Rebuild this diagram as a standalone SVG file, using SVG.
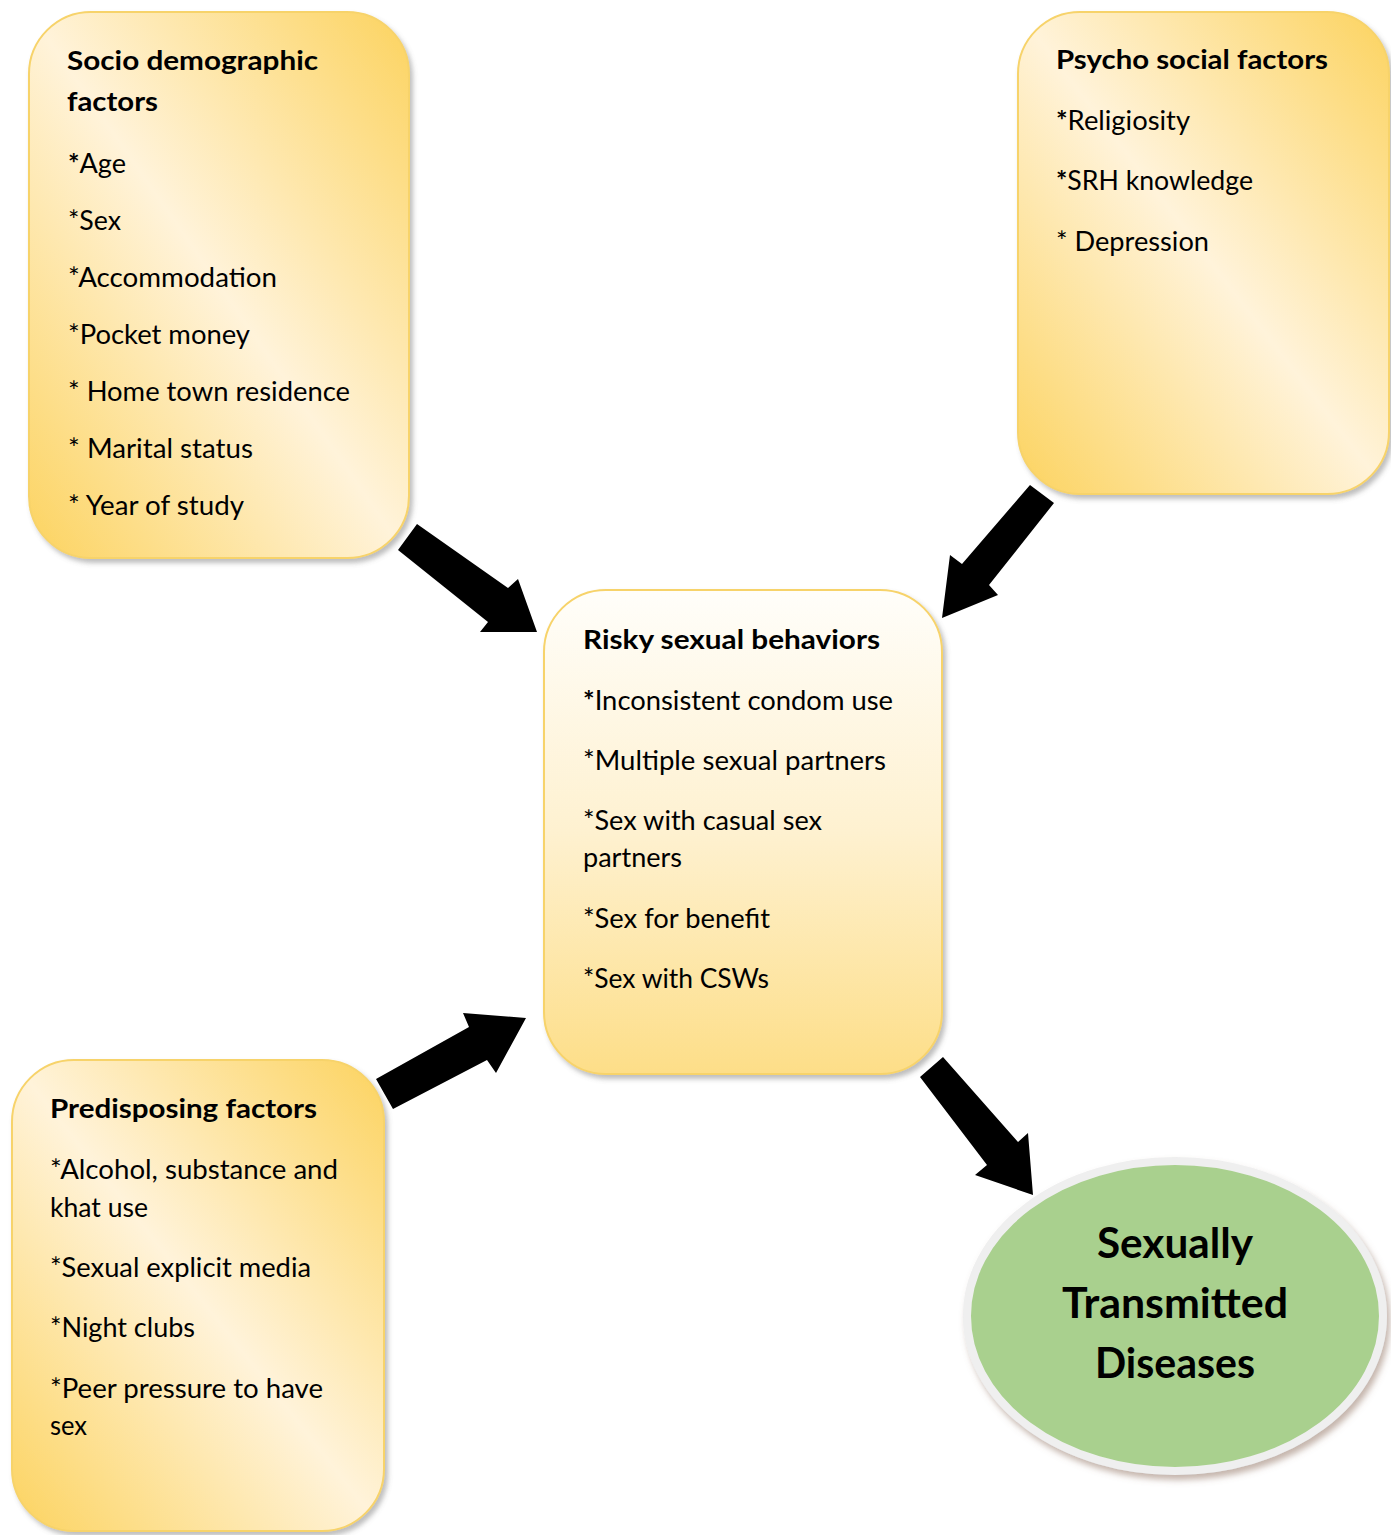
<svg xmlns="http://www.w3.org/2000/svg" width="1391" height="1535" viewBox="0 0 1391 1535">
  <style>
    .box { stroke: #F7D36B; stroke-width: 2; filter: url(#shadow); }
    .diag { fill: url(#gradDiag); }
    .vert { fill: url(#gradVert); }
    text { font-family: Lato, "Open Sans", sans-serif; fill: #000; }
    .t { font-size: 27.5px; font-weight: 700; }
    .b { font-size: 27px; font-weight: 400; }
    .ab { font-weight: 700; }
    .std { font-size: 42px; font-weight: 700; text-anchor: middle; }
    .arrow { fill: #000; }
  </style>
  <defs>
    <linearGradient id="gradDiag" x1="0" y1="1" x2="1" y2="0">
      <stop offset="0" stop-color="#FCD35F"/>
      <stop offset="0.5" stop-color="#FFF3DA"/>
      <stop offset="1" stop-color="#FCD35F"/>
    </linearGradient>
    <linearGradient id="gradVert" x1="0" y1="0" x2="0" y2="1">
      <stop offset="0" stop-color="#FFFEFA"/>
      <stop offset="0.5" stop-color="#FEF1D0"/>
      <stop offset="1" stop-color="#FDDE88"/>
    </linearGradient>
    <filter id="shadow" x="-10%" y="-10%" width="125%" height="125%">
      <feDropShadow dx="3" dy="4" stdDeviation="2.5" flood-color="#6e6e6e" flood-opacity="0.45"/>
    </filter>
    <filter id="shadowEll" x="-10%" y="-10%" width="125%" height="125%">
      <feDropShadow dx="3" dy="5" stdDeviation="3" flood-color="#8a6a58" flood-opacity="0.5"/>
    </filter>
  </defs>

  <rect width="1391" height="1535" fill="#FFFFFF"/>

  <g id="node-socio">
    <rect class="box diag" x="29" y="12" width="380" height="546" rx="62" ry="62"/>
    <text class="t" x="67" y="70" textLength="251" lengthAdjust="spacingAndGlyphs">Socio demographic</text>
    <text class="t" x="67" y="111" textLength="91" lengthAdjust="spacingAndGlyphs">factors</text>
    <text class="b" x="68" y="173" textLength="58" lengthAdjust="spacingAndGlyphs"><tspan class="ab">*</tspan>Age</text>
    <text class="b" x="68" y="230" textLength="53" lengthAdjust="spacingAndGlyphs">*Sex</text>
    <text class="b" x="68" y="287" textLength="209" lengthAdjust="spacingAndGlyphs">*Accommodation</text>
    <text class="b" x="68" y="344" textLength="182" lengthAdjust="spacingAndGlyphs">*Pocket money</text>
    <text class="b" x="68" y="401" textLength="282" lengthAdjust="spacingAndGlyphs">* Home town residence</text>
    <text class="b" x="68" y="458" textLength="185" lengthAdjust="spacingAndGlyphs">* Marital status</text>
    <text class="b" x="68" y="515" textLength="176" lengthAdjust="spacingAndGlyphs">* Year of study</text>
  </g>

  <g id="node-psycho">
    <rect class="box diag" x="1018" y="12" width="371" height="482" rx="62" ry="62"/>
    <text class="t" x="1056" y="69" textLength="272" lengthAdjust="spacingAndGlyphs">Psycho social factors</text>
    <text class="b" x="1056" y="130" textLength="134" lengthAdjust="spacingAndGlyphs"><tspan class="ab">*</tspan>Religiosity</text>
    <text class="b" x="1056" y="190" textLength="197" lengthAdjust="spacingAndGlyphs"><tspan class="ab">*</tspan>SRH knowledge</text>
    <text class="b" x="1056" y="251" textLength="153" lengthAdjust="spacingAndGlyphs">* Depression</text>
  </g>

  <g id="node-risky">
    <rect class="box vert" x="544" y="590" width="398" height="484" rx="62" ry="62"/>
    <text class="t" x="583" y="649" textLength="297" lengthAdjust="spacingAndGlyphs">Risky sexual behaviors</text>
    <text class="b" x="583" y="710" textLength="310" lengthAdjust="spacingAndGlyphs"><tspan class="ab">*</tspan>Inconsistent condom use</text>
    <text class="b" x="583" y="770" textLength="303" lengthAdjust="spacingAndGlyphs">*Multiple sexual partners</text>
    <text class="b" x="583" y="830" textLength="239" lengthAdjust="spacingAndGlyphs">*Sex with casual sex</text>
    <text class="b" x="583" y="867" textLength="99" lengthAdjust="spacingAndGlyphs">partners</text>
    <text class="b" x="583" y="928" textLength="187" lengthAdjust="spacingAndGlyphs">*Sex for benefit</text>
    <text class="b" x="583" y="988" textLength="186" lengthAdjust="spacingAndGlyphs">*Sex with CSWs</text>
  </g>

  <g id="node-predisposing">
    <rect class="box diag" x="12" y="1060" width="372" height="471" rx="62" ry="62"/>
    <text class="t" x="50" y="1118" textLength="267" lengthAdjust="spacingAndGlyphs">Predisposing factors</text>
    <text class="b" x="50" y="1179" textLength="288" lengthAdjust="spacingAndGlyphs">*Alcohol, substance and</text>
    <text class="b" x="50" y="1217" textLength="98" lengthAdjust="spacingAndGlyphs">khat use</text>
    <text class="b" x="50" y="1277" textLength="261" lengthAdjust="spacingAndGlyphs">*Sexual explicit media</text>
    <text class="b" x="50" y="1337" textLength="145" lengthAdjust="spacingAndGlyphs">*Night clubs</text>
    <text class="b" x="50" y="1398" textLength="273" lengthAdjust="spacingAndGlyphs">*Peer pressure to have</text>
    <text class="b" x="50" y="1435" textLength="37" lengthAdjust="spacingAndGlyphs">sex</text>
  </g>

  <g id="node-std">
    <ellipse cx="1175" cy="1316" rx="208" ry="155" fill="#A9D08E" stroke="#EFEFEF" stroke-width="8" filter="url(#shadowEll)"/>
    <text class="std" x="1175" y="1258" textLength="156" lengthAdjust="spacingAndGlyphs">Sexually</text>
    <text class="std" x="1175" y="1318" textLength="226" lengthAdjust="spacingAndGlyphs">Transmitted</text>
    <text class="std" x="1175" y="1378" textLength="160" lengthAdjust="spacingAndGlyphs">Diseases</text>
  </g>

  <g id="connectors">
    <polygon class="arrow" points="417,524 508,588 518,579 537,632 480,632 488,622 398,550"/>
    <polygon class="arrow" points="1054,503 989,585 998,595 942,618 950,555 962,564 1030,485"/>
    <polygon class="arrow" points="376,1079 469,1027 463,1013 526,1018 496,1073 487,1060 393,1109"/>
    <polygon class="arrow" points="920,1077 943,1057 1018,1142 1028,1133 1033,1195 975,1175 987,1165"/>
  </g>
</svg>
